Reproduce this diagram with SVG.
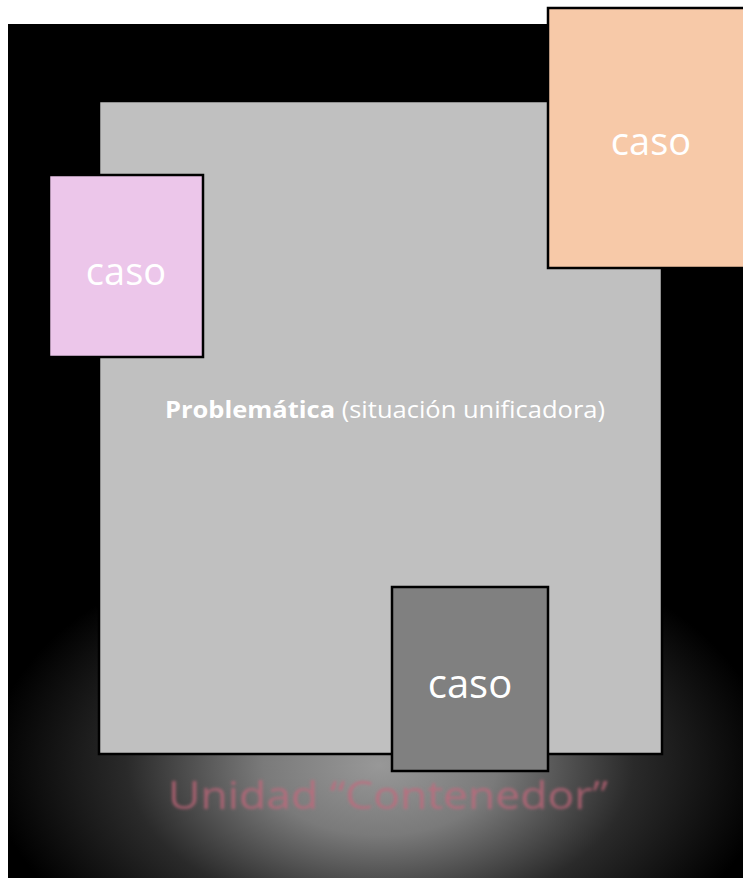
<svg xmlns="http://www.w3.org/2000/svg" width="743" height="878" viewBox="0 0 743 878">
  <style>
    .box { stroke: #000; stroke-width: 2.5; }
    .caso { font-family: "Open Sans", "Liberation Sans", sans-serif; fill: #fff; text-anchor: middle; }
  </style>
  <defs>
    <radialGradient id="glow" gradientUnits="userSpaceOnUse" cx="380" cy="765" r="390" gradientTransform="translate(380 765) scale(1 0.6) translate(-380 -765)">
      <stop offset="0" stop-color="#989898"/>
      <stop offset="0.3" stop-color="#7a7a7a"/>
      <stop offset="0.65" stop-color="#2a2a2a"/>
      <stop offset="1" stop-color="#000"/>
    </radialGradient>
    <filter id="soft" x="-10%" y="-50%" width="120%" height="200%">
      <feGaussianBlur stdDeviation="1.4"/>
    </filter>
  </defs>

  <!-- page -->
  <rect width="743" height="878" fill="#fff"/>
  <!-- dark backdrop with a soft glow beneath the main panel -->
  <rect x="8" y="24" width="735" height="854" fill="#000"/>
  <rect x="8" y="24" width="735" height="854" fill="url(#glow)"/>

  <!-- main panel -->
  <g id="problematica">
    <rect class="box" x="99" y="101" width="563" height="653" fill="#c0c0c0"/>
    <text x="385" y="418" font-family="'Open Sans', 'Liberation Sans', sans-serif" font-size="23" fill="#fff" text-anchor="middle" textLength="440" lengthAdjust="spacingAndGlyphs"><tspan font-weight="bold">Problemática</tspan> (situación unificadora)</text>
  </g>

  <!-- case boxes -->
  <g id="caso-rosa">
    <rect class="box" x="49" y="175" width="154" height="182" fill="#ecc6ea"/>
    <text class="caso" x="126" y="285" font-size="38">caso</text>
  </g>
  <g id="caso-durazno">
    <rect class="box" x="548" y="8" width="200" height="260" fill="#f7c9a8"/>
    <text class="caso" x="651" y="155" font-size="38">caso</text>
  </g>
  <g id="caso-gris">
    <rect class="box" x="392" y="587" width="156" height="184" fill="#808080"/>
    <text class="caso" x="470" y="698" font-size="40">caso</text>
  </g>

  <!-- caption -->
  <g id="contenedor">
    <text x="388" y="809" font-family="'Open Sans', 'Liberation Sans', sans-serif" font-size="38" fill="#c8667c" fill-opacity="0.7" text-anchor="middle" textLength="440" lengthAdjust="spacingAndGlyphs" filter="url(#soft)">Unidad “Contenedor”</text>
  </g>

  <g id="connectors"/>
</svg>
